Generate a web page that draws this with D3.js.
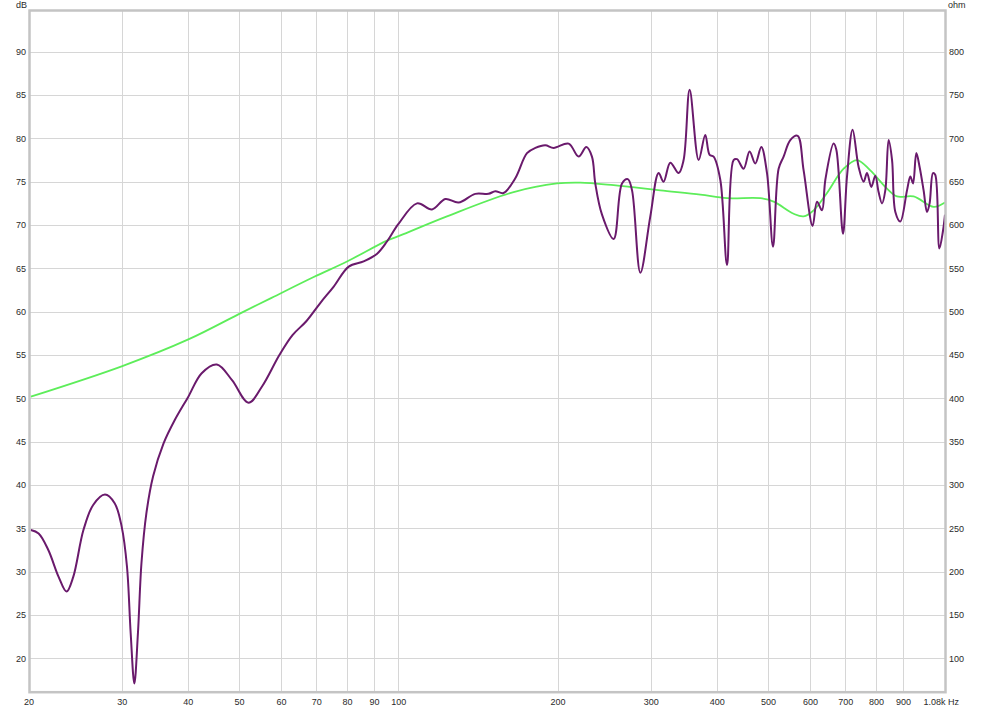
<!DOCTYPE html>
<html>
<head>
<meta charset="utf-8">
<script src="https://cdn.jsdelivr.net/npm/d3@7/dist/d3.min.js"></script>
<style>
  html, body { margin: 0; padding: 0; background: #ffffff; }
  svg { display: block; font-family: "Liberation Sans", Arial, sans-serif; }
</style>
</head>
<body>
<svg id="chart" width="983" height="708"></svg>
<script>
// ---- Data ----
const freqTicks = [20, 30, 40, 50, 60, 70, 80, 90, 100, 200, 300, 400, 500, 600, 700, 800, 900, 1080];
const freqTickLabels = ["20", "30", "40", "50", "60", "70", "80", "90", "100", "200", "300", "400", "500", "600", "700", "800", "900", "1.08k"];
const dbTicks = [20, 25, 30, 35, 40, 45, 50, 55, 60, 65, 70, 75, 80, 85, 90];
const ohmTicks = [100, 150, 200, 250, 300, 350, 400, 450, 500, 550, 600, 650, 700, 750, 800];

// Frequency response (dB), purple
const splFreq = [20.2, 20.9, 21.8, 22.8, 23.6, 24.3, 25.4, 26.5, 27.9, 29.1, 30.0, 30.7, 31.2, 31.7, 32.2, 32.7, 33.4, 34.4, 36.0, 37.8,
  40.1, 42.5, 45.4, 48.5, 52.1, 55.3, 59.6, 63.1, 67.0, 71.2, 75.5, 80.6, 86.0, 91.2, 95.2, 100, 108.5, 115.8, 122.7, 130.0,
  139.8, 148.1, 152.5, 158.1, 166.4, 175.1, 181.6, 189.6, 196.6, 209.9, 219.2, 226.7, 232.3, 235.7, 242.7, 255.3, 264.8, 271.6, 276.6, 286.8,
  299.5, 310.5, 317.3, 326.7, 338.8, 346.2, 355.4, 369.6, 380.4, 387.7, 394.5, 406.2, 418.2, 430.3, 436.8, 449.5, 461.4, 473.0, 485.5, 497.7,
  510.9, 523.5, 535.0, 550.8, 568.6, 583.7, 607.0, 618.7, 632.2, 641.5, 665.1, 673.0, 692.8, 705.0, 722.4, 741.5, 757.9, 769.1, 783.6, 797.4,
  808.9, 821.0, 832.9, 845.0, 857.7, 870.1, 889.2, 915.4, 928.8, 939.7, 953.3, 967.0, 984.0, 998.6, 1010, 1025, 1035, 1054, 1071, 1080];
const splDb = [34.8, 34.4, 32.5, 29.4, 27.7, 29.4, 34.8, 37.7, 38.9, 37.9, 35.2, 30.6, 22.9, 17.1, 22.9, 31.0, 36.7, 41.0, 44.8, 47.5,
  50.2, 52.9, 53.9, 52.1, 49.5, 51.4, 55.0, 57.3, 58.9, 61.0, 62.9, 65.2, 65.8, 66.7, 68.1, 70.1, 72.5, 71.8, 73.0, 72.6,
  73.6, 73.6, 73.9, 73.7, 75.4, 78.3, 78.9, 79.2, 78.9, 79.4, 77.9, 79.0, 77.9, 74.8, 71.2, 68.4, 74.8, 75.3, 74.0, 64.5,
  71.0, 76.0, 75.0, 77.2, 76.0, 77.5, 85.6, 77.5, 80.4, 78.1, 77.9, 75.2, 65.4, 77.5, 77.6, 76.5, 78.5, 77.1, 79.0, 76.0,
  67.5, 76.5, 77.9, 79.8, 80.3, 76.3, 69.9, 72.7, 71.7, 75.2, 79.4, 78.7, 69.0, 75.6, 81.0, 76.7, 75.0, 76.0, 74.4, 75.7,
  73.8, 72.5, 74.0, 79.8, 77.5, 71.5, 70.4, 74.0, 75.6, 74.8, 78.3, 76.7, 74.0, 71.5, 72.5, 76.0, 75.8, 67.3, 69.4, 71.2];

// Impedance (ohm), green
const impFreq = [20.2, 30.0, 40.1, 50.6, 57.6, 69.2, 80.0, 95.2, 100.9, 123.6, 165.2, 199.5, 220.8, 255.3, 274.6, 312.8, 372.4, 418.2, 483.4, 512.3,
  558.9, 583.7, 609.7, 646.3, 694.7, 736.4, 780.2, 839.1, 876.4, 942.1, 1028, 1080];
const impOhm = [402, 437, 468, 499, 516, 540, 558, 582, 588, 610, 638, 648, 649, 646, 644, 640, 635, 631, 631, 627,
  613, 610, 617, 637, 665, 675, 663, 642, 633, 633, 621, 626];

// ---- Layout ----
const svg = d3.select("#chart");
const plotLeft = 30, plotRight = 945, plotTop = 11, plotBottom = 691.7;

const x = d3.scaleLog().domain([20.13, 1080]).range([plotLeft, plotRight]);
const y = d3.scaleLinear().domain([16.15, 94.7]).range([plotBottom, plotTop]);
const yOhm = d3.scaleLinear().domain([16.15 * 10 - 100, 94.7 * 10 - 100]).range([plotBottom, plotTop]);

const gridColor = "#d6d6d6";
const textColor = "#2a2a2a";

// grid
const grid = svg.append("g");
grid.selectAll("line.v").data(freqTicks.slice(1, -1)).join("line")
  .attr("x1", d => Math.round(x(d)) + 0.5).attr("x2", d => Math.round(x(d)) + 0.5)
  .attr("y1", plotTop).attr("y2", plotBottom)
  .attr("stroke", gridColor).attr("stroke-width", 1);
grid.selectAll("line.h").data(dbTicks).join("line")
  .attr("x1", plotLeft).attr("x2", plotRight)
  .attr("y1", d => Math.round(y(d)) + 0.5).attr("y2", d => Math.round(y(d)) + 0.5)
  .attr("stroke", gridColor).attr("stroke-width", 1);

// clip
svg.append("clipPath").attr("id", "plotclip").append("rect")
  .attr("x", plotLeft).attr("y", plotTop).attr("width", plotRight - plotLeft).attr("height", plotBottom - plotTop);

// lines
const lineSpl = d3.line()
  .x(d => x(d[0])).y(d => y(d[1]))
  .curve(d3.curveCatmullRom.alpha(0.5));
const lineImp = d3.line()
  .x(d => x(d[0])).y(d => yOhm(d[1]))
  .curve(d3.curveCatmullRom.alpha(0.5));

const plot = svg.append("g").attr("clip-path", "url(#plotclip)");
plot.append("path")
  .datum(impFreq.map((f, i) => [f, impOhm[i]]))
  .attr("d", lineImp)
  .attr("fill", "none").attr("stroke", "#5ded5a").attr("stroke-width", 1.8);
plot.append("path")
  .datum(splFreq.map((f, i) => [f, splDb[i]]))
  .attr("d", lineSpl)
  .attr("fill", "none").attr("stroke", "#6a1a6c").attr("stroke-width", 2)
  .attr("stroke-linejoin", "round");

// frame
svg.append("rect")
  .attr("x", plotLeft - 0.5).attr("y", plotTop - 0.5)
  .attr("width", plotRight - plotLeft + 1).attr("height", plotBottom - plotTop + 1)
  .attr("fill", "none").attr("stroke", "#c4c4c4").attr("stroke-width", 2.5);

// axes
const fontSize = 9;
function styleAxis(g) {
  g.select(".domain").remove();
  g.selectAll("line").remove();
  g.selectAll("text").attr("fill", textColor).style("font-size", fontSize + "px")
    .style("font-family", '"Liberation Sans", Arial, sans-serif');
}

const xAxis = svg.append("g")
  .attr("transform", `translate(0,${plotBottom})`)
  .call(d3.axisBottom(x).tickValues(freqTicks).tickFormat((d, i) => freqTickLabels[i]).tickSize(0).tickPadding(7))
  .call(styleAxis);
xAxis.selectAll(".tick text").filter(d => d === 1080).attr("text-anchor", "end").attr("x", 0);

svg.append("g")
  .attr("transform", `translate(${plotLeft},0)`)
  .call(d3.axisLeft(y).tickValues(dbTicks).tickSize(0).tickPadding(4))
  .call(styleAxis);

svg.append("g")
  .attr("transform", `translate(${plotRight},0)`)
  .call(d3.axisRight(yOhm).tickValues(ohmTicks).tickSize(0).tickPadding(4))
  .call(styleAxis);

// unit labels
svg.append("text").attr("x", 27).attr("y", 8).attr("text-anchor", "end")
  .attr("fill", textColor).style("font-size", fontSize + "px").text("dB");
svg.append("text").attr("x", 948).attr("y", 8).attr("text-anchor", "start")
  .attr("fill", textColor).style("font-size", fontSize + "px").text("ohm");
svg.append("text").attr("x", 948).attr("y", plotBottom + 7 + fontSize * 0.71).attr("text-anchor", "start")
  .attr("fill", textColor).style("font-size", fontSize + "px").text("Hz");
</script>
</body>
</html>
